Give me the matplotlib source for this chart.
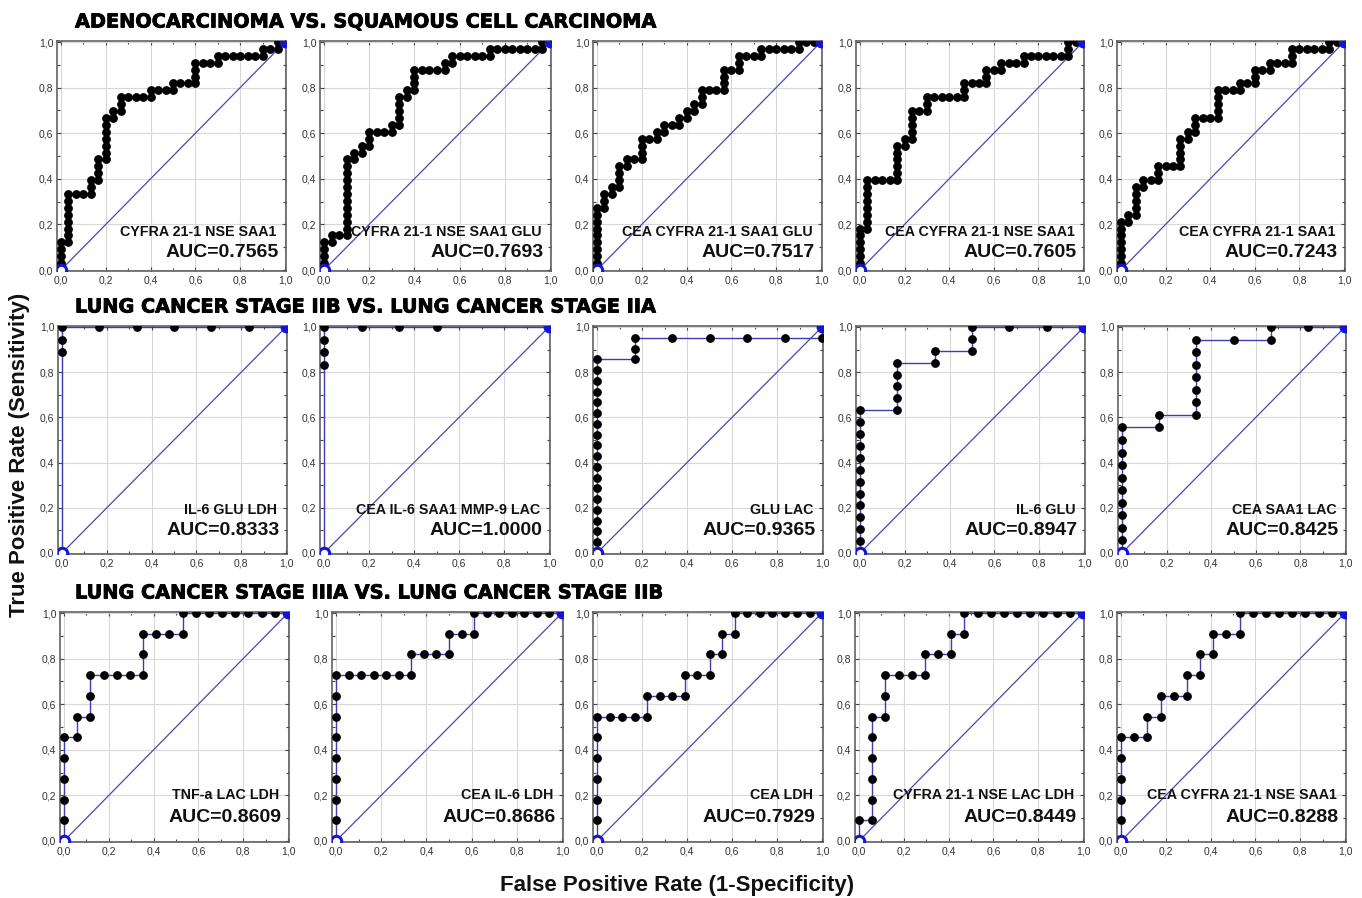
import matplotlib
matplotlib.use('Agg')
import matplotlib.pyplot as plt
import matplotlib.patheffects as pe
import numpy as np
from matplotlib.ticker import MultipleLocator, FixedLocator, FixedFormatter

W, H = 1362, 898
fig = plt.figure(figsize=(W / 100, H / 100), dpi=100)

# ---------------- data ----------------
row_titles = [
    "ADENOCARCINOMA VS. SQUAMOUS CELL CARCINOMA",
    "LUNG CANCER STAGE IIB VS. LUNG CANCER STAGE IIA",
    "LUNG CANCER STAGE IIIA VS. LUNG CANCER STAGE IIB",
]
combo_labels = [
    ["CYFRA 21-1 NSE SAA1", "CYFRA 21-1 NSE SAA1 GLU", "CEA CYFRA 21-1 SAA1 GLU",
     "CEA CYFRA 21-1 NSE SAA1", "CEA CYFRA 21-1 SAA1"],
    ["IL-6 GLU LDH", "CEA IL-6 SAA1 MMP-9 LAC", "GLU LAC", "IL-6 GLU", "CEA SAA1 LAC"],
    ["TNF-a LAC LDH", "CEA IL-6 LDH", "CEA LDH", "CYFRA 21-1 NSE LAC LDH",
     "CEA CYFRA 21-1 NSE SAA1"],
]
auc_labels = [
    ["AUC=0.7565", "AUC=0.7693", "AUC=0.7517", "AUC=0.7605", "AUC=0.7243"],
    ["AUC=0.8333", "AUC=1.0000", "AUC=0.9365", "AUC=0.8947", "AUC=0.8425"],
    ["AUC=0.8609", "AUC=0.8686", "AUC=0.7929", "AUC=0.8449", "AUC=0.8288"],
]
# number of positives (TPR denominator) and negatives (FPR denominator)
n_pos = [[33, 33, 33, 33, 33], [18, 18, 21, 19, 18], [11, 11, 11, 11, 11]]
n_neg = [[30, 30, 30, 30, 30], [6, 6, 6, 6, 6], [17, 18, 18, 17, 17]]
# ROC path: 'u'/'r' = unit steps each with a point; 'U'/'R' = single jump to one point
curve_moves = [
    ["u4 r1 u7 r3 u2 r1 u3 r1 u6 r1 u1 r1 u2 r4 u1 r3 u1 r3 u3 r3 u1 r6 u1 r2 u1 r1",
     "u4 r1 u1 r2 u11 r1 u1 r1 u1 r1 u2 r3 u1 r1 u4 r1 u1 r1 u3 r4 u1 r1 u1 r5 u1 r7 u1 r1",
     "u9 r1 u2 r1 u1 r1 u3 r1 u1 r2 u3 r2 u1 r1 u1 r2 u1 r1 u1 r1 u1 r1 u2 r3 u3 r2 u2 r3 u1 r5 u1 r3",
     "u6 r1 u7 r4 u5 r1 u1 r1 u4 r2 u2 r5 u2 r3 u2 r2 u1 r3 u1 r6 u2 r2",
     "u7 r1 u1 r1 u4 r1 u1 r2 u2 r3 u4 r1 u1 r1 u2 r3 u4 r3 u1 r2 u2 r2 u1 r3 u2 r5 u1 r2"],
    ["U16 u2 r6",
     "U15 u3 r3 R3",
     "u18 r1 u2 r5 u1",
     "u12 r1 u4 r1 u1 r1 u2 r3",
     "u10 r1 u1 r1 u6 r2 u1 r2"],
    ["u5 r1 u1 r1 u2 r4 u2 r3 u1 r8",
     "u8 r6 u1 r3 u1 r2 u1 r7",
     "u6 r4 u1 r3 u1 r2 u1 r1 u1 r1 u1 r7",
     "u1 r1 u5 r1 u2 r3 u1 r2 u1 r1 u1 r9",
     "u5 r2 u1 r1 u1 r2 u1 r1 u1 r1 u1 r2 u1 r8"],
]
tick_values = [0.0, 0.2, 0.4, 0.6, 0.8, 1.0]
tick_labels = ["0,0", "0,2", "0,4", "0,6", "0,8", "1,0"]

# ---------------- layout (pixel positions of data 0 and 1) ----------------
row_y = [(270, 42), (553, 327), (841, 613)]
col_x = [
    [(61, 285), (324, 550), (597, 821), (860, 1083), (1121, 1344)],
    [(62, 286), (324, 549), (597, 822), (860, 1084), (1122, 1345)],
    [(64, 288), (336, 562), (597, 822), (859, 1083), (1121, 1345)],
]
title_y = [22, 307, 593]
name_y = [0.165, 0.19, 0.20]
auc_y = [0.075, 0.10, 0.105]

XL, XR = -0.016, 1.004
YB, YT = -0.006, 1.004

LABEL_FONT = ["Liberation Sans", "DejaVu Sans"]
CURVE_COL = "#3c3cb4"
DIAG_COL = "#4848b0"
MARK_COL = "#1515d0"


def trace(moves, npos, nneg):
    fp, tp = 0, 0
    xs, ys = [0.0], [0.0]
    for tok in moves.split():
        d, k = tok[0], int(tok[1:])
        if d in "ur":
            for _ in range(k):
                if d == "u":
                    tp += 1
                else:
                    fp += 1
                xs.append(fp / nneg)
                ys.append(tp / npos)
        else:
            if d == "U":
                tp += k
            else:
                fp += k
            xs.append(fp / nneg)
            ys.append(tp / npos)
    return np.array(xs), np.array(ys)


for r in range(3):
    y0, y1 = row_y[r]
    sy = y0 - y1
    for c in range(5):
        x0, x1 = col_x[r][c]
        sx = x1 - x0
        left = (x0 + XL * sx) / W
        width = (XR - XL) * sx / W
        bottom = 1 - (y0 - YB * sy) / H
        height = (YT - YB) * sy / H
        ax = fig.add_axes([left, bottom, width, height])
        ax.set_xlim(XL, XR)
        ax.set_ylim(YB, YT)

        ax.xaxis.set_major_locator(FixedLocator(tick_values))
        ax.yaxis.set_major_locator(FixedLocator(tick_values))
        ax.xaxis.set_major_formatter(FixedFormatter(tick_labels))
        ax.yaxis.set_major_formatter(FixedFormatter(tick_labels))
        ax.xaxis.set_minor_locator(MultipleLocator(0.1))
        ax.yaxis.set_minor_locator(MultipleLocator(0.1))
        ax.tick_params(which="both", direction="in", top=True, right=True,
                       color="#444444", width=0.8)
        ax.tick_params(which="major", length=3, labelsize=7.5, labelcolor="#333333", pad=3)
        ax.tick_params(which="minor", length=2)
        for lab in ax.get_xticklabels() + ax.get_yticklabels():
            lab.set_family(LABEL_FONT)
        ax.grid(True, which="major", color="#d8d8d8", lw=0.8)
        ax.set_axisbelow(True)
        for sp in ax.spines.values():
            sp.set_color("#555555")
            sp.set_linewidth(1.1)

        # diagonal reference
        ax.plot([0, 1], [0, 1], color=DIAG_COL, lw=0.9, zorder=2)

        xs, ys = trace(curve_moves[r][c], n_pos[r][c], n_neg[r][c])
        ax.plot(xs, ys, color=CURVE_COL, lw=1.0, zorder=3)
        ax.plot(xs[1:], ys[1:], linestyle="none", marker="o", ms=5.3,
                mfc="black", mec="black", zorder=4)
        ax.plot([xs[0]], [ys[0]], linestyle="none", marker="o", ms=7.5,
                mfc="white", mec=MARK_COL, mew=2.2, zorder=5)
        ax.plot([1.0], [1.0], linestyle="none", marker="o", ms=7.5,
                mfc=MARK_COL, mec=MARK_COL, zorder=5)

        ax.text(0.962, name_y[r], combo_labels[r][c], ha="right", va="center",
                fontsize=10.3, fontweight="bold", color="#111111",
                family=LABEL_FONT, zorder=6)
        ax.text(0.972, auc_y[r], auc_labels[r][c], ha="right", va="center",
                fontsize=14, fontweight="bold", color="#111111",
                family=LABEL_FONT, zorder=6)

    fig.text(75 / W, 1 - title_y[r] / H, row_titles[r], ha="left", va="center",
             fontsize=13.9, fontweight="bold", family="DejaVu Sans", color="black",
             path_effects=[pe.withStroke(linewidth=0.6, foreground="black")])

fig.text(677 / W, 1 - 885 / H, "False Positive Rate (1-Specificity)", ha="center",
         va="center", fontsize=16, fontweight="bold", family=LABEL_FONT, color="#111111")
fig.text(20 / W, 1 - 455 / H, "True Positive Rate (Sensitivity)", ha="center",
         va="center", rotation=90, fontsize=16, fontweight="bold", family=LABEL_FONT,
         color="#111111")

fig.savefig("out.png", dpi=100, facecolor="white")
